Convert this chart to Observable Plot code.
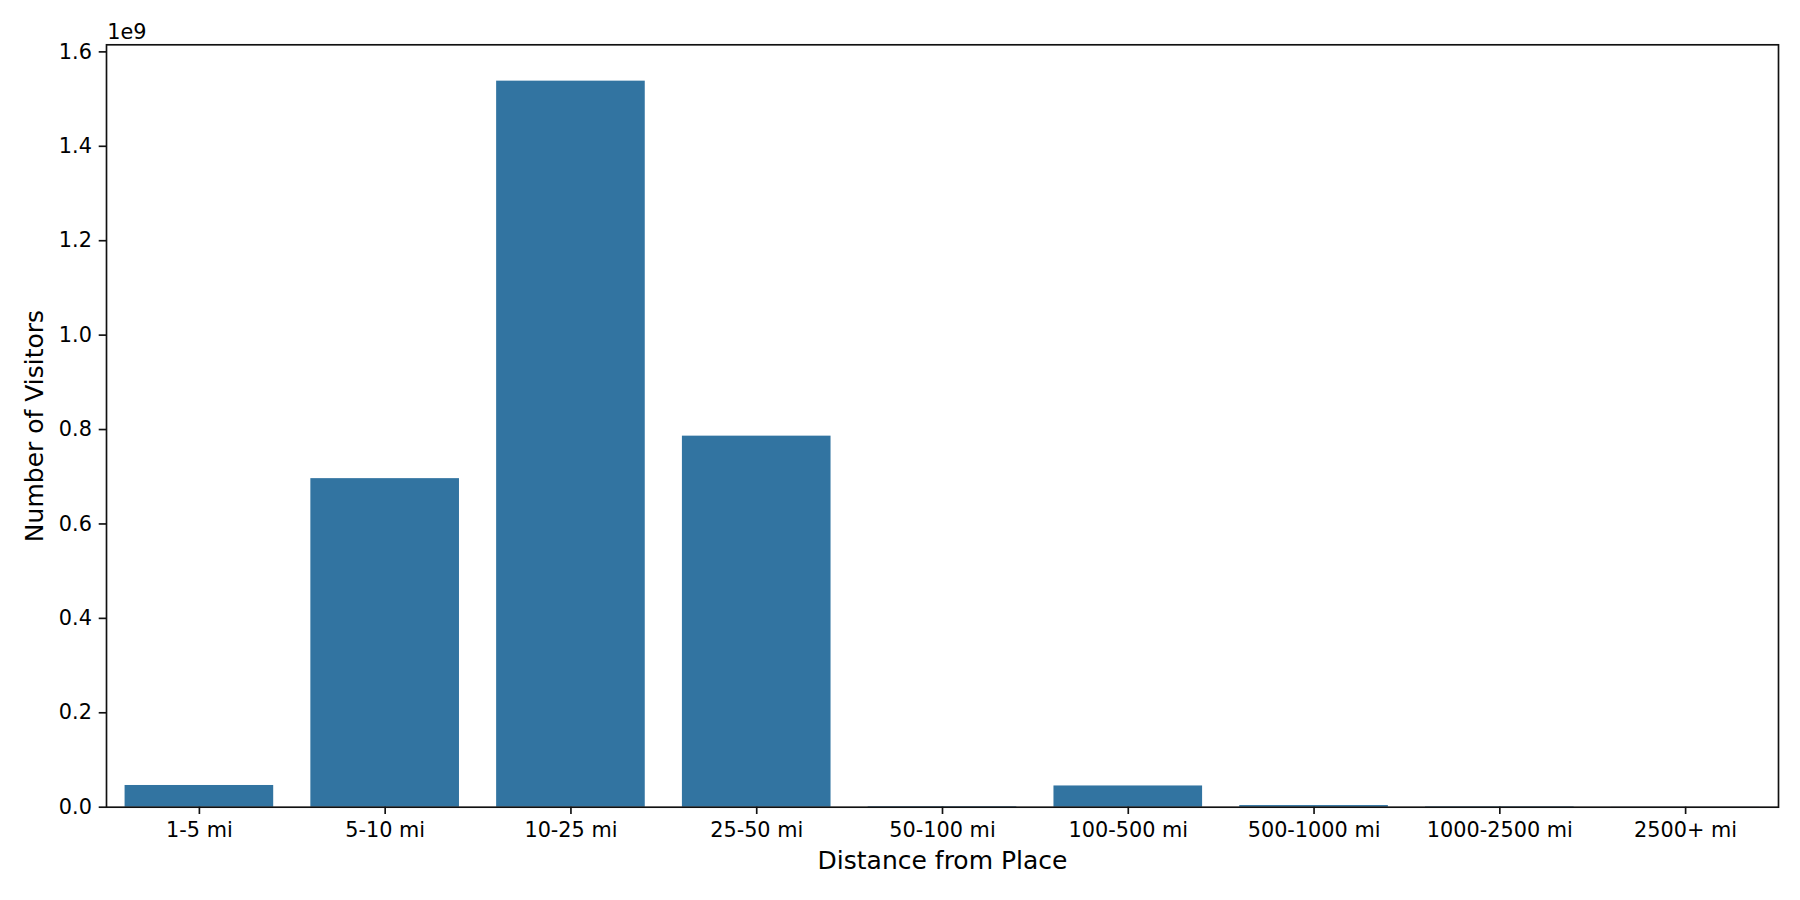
<!DOCTYPE html>
<html>
<head>
<meta charset="utf-8">
<script src="https://cdn.jsdelivr.net/npm/d3@7"></script>
<script src="https://cdn.jsdelivr.net/npm/@observablehq/plot@0.6"></script>
<style>
  html, body { margin: 0; padding: 0; background: #fff; }
  #chart svg { display: block; }
</style>
</head>
<body>
<div id="chart"></div>
<script>
const categories = ["1-5 mi", "5-10 mi", "10-25 mi", "25-50 mi", "50-100 mi", "100-500 mi", "500-1000 mi", "1000-2500 mi", "2500+ mi"];
const visitors = [46e6, 696e6, 1538e6, 786e6, 1.2e6, 45e6, 3.5e6, 1e6, 0.2e6];
const yTicks = [0, 0.2e9, 0.4e9, 0.6e9, 0.8e9, 1.0e9, 1.2e9, 1.4e9, 1.6e9];
const xLabel = "Distance from Place";
const yLabel = "Number of Visitors";
const offsetLabel = "1e9";

const data = categories.map((c, i) => ({category: c, value: visitors[i]}));

const fontFamily = "DejaVu Sans, sans-serif";
const chart = Plot.plot({
  width: 1800,
  height: 900,
  marginLeft: 106,
  marginRight: 22,
  marginTop: 44.3,
  marginBottom: 93.3,
  style: {fontFamily, background: "#fff", color: "black"},
  x: {domain: categories, paddingInner: 0.2, paddingOuter: 0.1, round: false, label: null},
  y: {domain: [0, 1.615e9], label: null},
  marks: [
    Plot.barY(data, {x: "category", y: "value", fill: "#3274a1"}),
    Plot.frame({stroke: "#111", strokeWidth: 1.67}),
    Plot.axisX({ticks: categories, tickSize: 7.3, tickPadding: 7.3, fontSize: 20.8, strokeWidth: 1.67, stroke: "#111", fill: "black", label: null}),
    Plot.axisY({ticks: yTicks, tickSize: 7.3, tickPadding: 7.3, fontSize: 20.8, strokeWidth: 1.67, stroke: "#111", fill: "black", tickFormat: d => (d / 1e9).toFixed(1), label: null}),
    Plot.text([xLabel], {frameAnchor: "bottom", text: d => d, textAnchor: "middle", lineAnchor: "middle", dy: 53.3, fontSize: 25, fill: "black"}),
    Plot.text([yLabel], {frameAnchor: "left", text: d => d, textAnchor: "middle", lineAnchor: "middle", dx: -71.3, rotate: -90, fontSize: 25, fill: "black"}),
    Plot.text([offsetLabel], {frameAnchor: "top-left", text: d => d, textAnchor: "start", lineAnchor: "middle", dx: 0.7, dy: -12.7, fontSize: 20.8, fill: "black"})
  ]
});
document.getElementById("chart").appendChild(chart);
</script>
</body>
</html>
